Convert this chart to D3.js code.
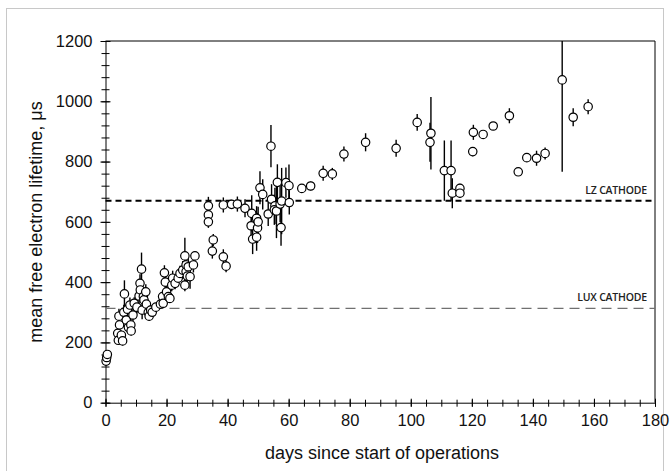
<!DOCTYPE html>
<html>
<head>
<meta charset="utf-8">
<script src="https://cdn.jsdelivr.net/npm/d3@7"></script>
<style>
    body { margin: 0; background: white; }
    text { font-family: "Liberation Sans", Arial, sans-serif; }
</style>
</head>
<body>
<div id="chart"></div>
<script>
// days since start, lifetime (us), error (us)
days = [0.2, 0.4, 0.6,
    4.0, 4.2, 4.4, 4.6, 5.2, 5.6, 6.0, 6.2, 6.8, 7.2, 7.5, 8.0, 8.3, 8.4, 9.0, 9.4, 10.3, 11.0, 11.3, 11.4, 11.8, 12.0, 12.4, 12.6, 13.2, 13.4, 14.0, 14.3, 14.8, 15.3, 16.5, 18.0,
    18.7, 18.9, 19.3, 19.6, 20.0, 20.6, 21.1, 21.7, 22.0, 22.8, 23.8, 24.4, 25.3, 26.0, 26.0, 26.4, 26.4, 26.8, 27.1, 27.7, 28.8, 29.3,
    33.7, 33.7, 33.7, 35.0, 35.3, 38.6, 39.5, 38.6, 41.3, 43.2, 45.7, 47.9, 47.7, 48.2, 49.5, 49.8, 50.0, 49.5, 50.6, 51.5, 53.3, 54.2, 54.4, 55.5, 55.3, 56.0, 56.3, 57.2, 57.7, 57.5, 59.1, 60.1, 60.2,
    64.3, 67.2, 71.3, 74.3, 78.1, 85.2, 95.2, 102.1, 106.3, 106.6, 111.0, 113.2, 113.6, 116.1, 116.1, 120.3, 120.5, 123.7, 127.0, 132.3, 135.2, 138.0, 141.2, 144.0, 149.6, 153.2, 158.1];

lifetime = [138, 150, 160,
    230, 207, 287, 258, 224, 205, 300, 361, 274, 310, 250, 324, 258, 238, 291, 330, 317, 354, 396, 374, 443, 307, 352, 341, 368, 327, 300, 287, 307, 300, 317, 327,
    352, 330, 431, 400, 368, 352, 346, 390, 413, 396, 413, 429, 440, 487, 390, 457, 435, 420, 451, 418, 457, 487,
    653, 623, 600, 503, 540, 484, 453, 656, 658, 659, 645, 628, 587, 543, 612, 580, 600, 549, 713, 691, 626, 851, 675, 653, 640, 636, 731, 659, 669, 581, 730, 720, 664,
    711, 719, 761, 759, 825, 864, 844, 930, 864, 894, 770, 770, 695, 711, 695, 833, 897, 890, 918, 952, 766, 813, 811, 827, 1071, 947, 982];

errors = [8, 8, 8,
    15, 12, 25, 20, 15, 15, 25, 45, 20, 25, 20, 25, 20, 15, 20, 20, 20, 25, 30, 30, 55, 30, 25, 20, 25, 20, 20, 15, 15, 15, 10, 10,
    15, 15, 25, 20, 20, 20, 15, 20, 25, 20, 25, 25, 30, 60, 20, 30, 40, 30, 30, 40, 25, 15,
    30, 25, 20, 25, 20, 25, 20, 25, 15, 25, 30, 60, 40, 50, 40, 50, 50, 45, 55, 50, 40, 70, 50, 60, 50, 90, 60, 60, 110, 60, 50, 70, 40,
    12, 15, 25, 20, 25, 30, 28, 28, 65, 120, 100, 100, 50, 15, 15, 15, 25, 10, 12, 25, 0, 0, 25, 20, 305, 30, 25];

xTicks = [0, 20, 40, 60, 80, 100, 120, 140, 160, 180];
yTicks = [0, 200, 400, 600, 800, 1000, 1200];

refLines = [
    { name: "LZ CATHODE", value: 670 },
    { name: "LUX CATHODE", value: 313 }
];

width = 670;
height = 471;
plotLeft = 105.5;
plotRight = 655;
plotTop = 41;
plotBottom = 402.7;

svg = d3.select("#chart")
    .append("svg")
    .attr("width", width)
    .attr("height", height);

// light frame around the figure
svg.append("rect")
    .attr("x", 6.5)
    .attr("y", 8.5)
    .attr("width", 657)
    .attr("height", 480)
    .style("fill", "none")
    .style("stroke", "#c8c8c8")
    .style("stroke-width", 1);

x = d3.scaleLinear().domain([0, 180]).range([plotLeft, plotRight]);
y = d3.scaleLinear().domain([0, 1200]).range([plotBottom, plotTop]);

points = days.map(function(d, i) {
    return { day: d, value: lifetime[i], err: errors[i] };
});

// minor ticks
xMinor = svg.append("g")
    .attr("transform", "translate(0," + plotBottom + ")")
    .call(d3.axisBottom(x).tickValues(d3.range(0, 181, 5)).tickFormat("").tickSizeOuter(0));
xMinor.selectAll(".tick line").attr("y1", -3).attr("y2", 4);
xMinor.select(".domain").remove();

yMinor = svg.append("g")
    .attr("transform", "translate(" + plotLeft + ",0)")
    .call(d3.axisLeft(y).tickValues(d3.range(0, 1201, 40)).tickFormat("").tickSizeOuter(0));
yMinor.selectAll(".tick line").attr("x1", -4).attr("x2", 4);
yMinor.select(".domain").remove();

// major ticks + labels
xAxis = svg.append("g")
    .attr("transform", "translate(0," + plotBottom + ")")
    .call(d3.axisBottom(x).tickValues(xTicks).tickFormat(d3.format("d")).tickSizeOuter(0));
xAxis.selectAll(".tick line").attr("y1", -4).attr("y2", 4);
xAxis.selectAll(".tick text")
    .attr("y", 12)
    .style("font-size", "16.5px")
    .style("font-family", "Liberation Sans, Arial, sans-serif")
    .style("fill", "#111");

yAxis = svg.append("g")
    .attr("transform", "translate(" + plotLeft + ",0)")
    .call(d3.axisLeft(y).tickValues(yTicks).tickFormat(d3.format("d")).tickSizeOuter(0));
yAxis.selectAll(".tick line").attr("x1", -5).attr("x2", 5);
yAxis.selectAll(".tick text")
    .attr("x", -13)
    .style("font-size", "16.5px")
    .style("font-family", "Liberation Sans, Arial, sans-serif")
    .style("fill", "#111");

svg.selectAll(".domain").style("stroke", "black");

// top and right box edges
svg.append("line")
    .attr("x1", plotLeft).attr("x2", plotRight)
    .attr("y1", plotTop).attr("y2", plotTop)
    .style("stroke", "black");
svg.append("line")
    .attr("x1", plotRight).attr("x2", plotRight)
    .attr("y1", plotTop).attr("y2", plotBottom)
    .style("stroke", "black");

// cathode reference lines
svg.append("line")
    .attr("x1", x(0)).attr("x2", x(180))
    .attr("y1", y(refLines[1].value)).attr("y2", y(refLines[1].value))
    .style("stroke", "#707070")
    .style("stroke-width", 1.3)
    .style("stroke-dasharray", "10,6");
svg.append("line")
    .attr("x1", x(0)).attr("x2", x(180))
    .attr("y1", y(refLines[0].value)).attr("y2", y(refLines[0].value))
    .style("stroke", "black")
    .style("stroke-width", 2.2)
    .style("stroke-dasharray", "6,4");

svg.selectAll(".refLabel")
    .data(refLines)
    .enter()
    .append("text")
    .attr("class", "refLabel")
    .attr("x", 647)
    .attr("y", function(d) { return y(d.value) - 7; })
    .attr("text-anchor", "end")
    .style("font-family", "Open Sans, sans-serif")
    .style("font-weight", "600")
    .style("font-size", "10.5px")
    .style("letter-spacing", "-0.2px")
    .style("fill", "#222")
    .text(function(d) { return d.name; });

// error bars
svg.selectAll(".errBar")
    .data(points.filter(function(d) { return d.err > 0; }))
    .enter()
    .append("line")
    .attr("class", "errBar")
    .attr("x1", function(d) { return x(d.day); })
    .attr("x2", function(d) { return x(d.day); })
    .attr("y1", function(d) { return y(Math.min(1200, d.value + d.err)); })
    .attr("y2", function(d) { return y(Math.max(0, d.value - d.err)); })
    .style("stroke", "black")
    .style("stroke-width", 1.4);

svg.selectAll(".pt")
    .data(points)
    .enter()
    .append("circle")
    .attr("class", "pt")
    .attr("cx", function(d) { return x(d.day); })
    .attr("cy", function(d) { return y(d.value); })
    .attr("r", 4.2)
    .style("fill", "white")
    .style("stroke", "black")
    .style("stroke-width", 1.2);

// axis titles
svg.append("text")
    .attr("x", 382)
    .attr("y", 459)
    .attr("text-anchor", "middle")
    .style("font-size", "18px")
    .style("fill", "#111")
    .text("days since start of operations");

svg.append("text")
    .attr("transform", "translate(42,222) rotate(-90)")
    .attr("text-anchor", "middle")
    .style("font-size", "18px")
    .style("fill", "#111")
    .text("mean free electron lifetime, \u03bcs");
</script>
</body>
</html>
